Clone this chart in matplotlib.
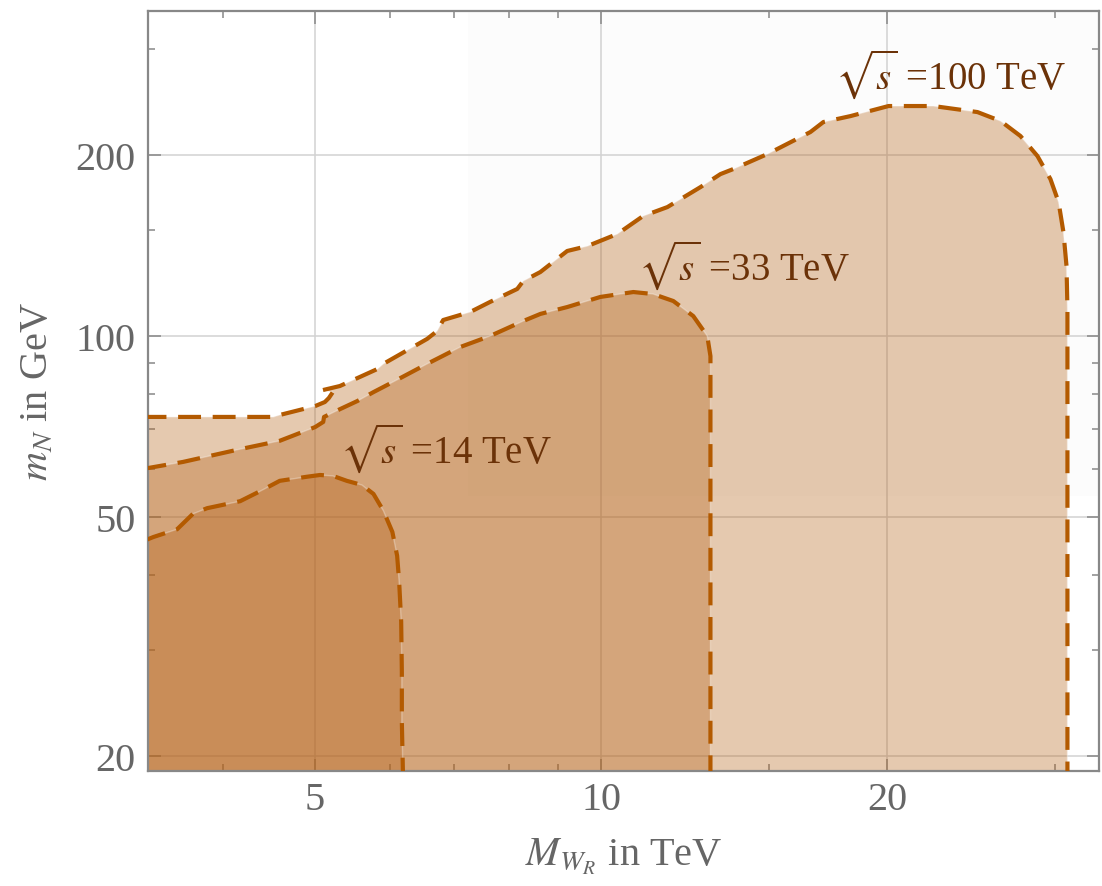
import matplotlib
matplotlib.use('Agg')
import matplotlib.pyplot as plt
from matplotlib.patches import Rectangle

plt.rcParams['font.family'] = ['Liberation Serif', 'DejaVu Serif']
plt.rcParams['mathtext.fontset'] = 'stix'

# reach contours, M_WR in TeV vs m_N in GeV
mw_100 = [3.30, 4.52, 4.59, 5.00, 5.12, 5.17, 5.22, 5.09, 5.31, 5.82, 5.90, 6.56, 6.72, 6.82,
          7.28, 7.64, 8.16, 8.28, 8.63, 9.21, 9.67, 10.40, 11.07, 11.74, 12.72, 13.35, 13.77,
          14.96, 16.60, 17.13, 18.29, 20.06, 22.36, 24.88, 26.31, 27.61, 28.77, 29.69, 30.28,
          30.64, 30.87, 30.94, 30.94]
mn_100 = [73.3, 73.3, 73.85, 76.4, 77.6, 78.8, 80.6, 81.2, 82.5, 88.1, 89.8, 98.8, 101.8, 106.2,
          109.5, 113.8, 119.6, 123.3, 127.6, 138.3, 140.9, 147.6, 158.1, 163.6, 176.6, 185.6, 189.2,
          200.4, 218.0, 226.5, 231.7, 240.8, 240.8, 235.3, 227.4, 214.7, 198.9, 182.1, 166.8,
          148.7, 130.6, 110.8, 18.0]

mw_33 = [3.30, 3.63, 4.17, 4.59, 5.00, 5.10, 5.11, 5.31, 5.54, 5.76, 6.04, 6.56, 7.11, 7.64,
         8.28, 8.63, 9.21, 9.98, 10.81, 11.34, 11.91, 12.50, 12.93, 13.03, 13.03, 13.03]
mn_33 = [60.1, 61.7, 64.8, 66.9, 70.5, 71.9, 73.3, 75.5, 77.9, 80.6, 83.8, 89.8, 95.8, 99.9,
         105.8, 108.7, 111.6, 116.0, 118.2, 117.3, 114.2, 107.8, 99.9, 92.5, 84.7, 18.0]

mw_14 = [3.30, 3.38, 3.58, 3.72, 3.85, 4.17, 4.38, 4.59, 4.90, 5.06, 5.22, 5.40, 5.60, 5.76,
         5.90, 6.03, 6.10, 6.13, 6.16, 6.17, 6.17, 6.19]
mn_14 = [45.6, 46.3, 47.7, 50.6, 51.7, 53.1, 55.2, 57.4, 58.3, 58.7, 58.5, 57.4, 56.5, 54.6,
         51.2, 47.2, 43.1, 39.0, 33.5, 27.6, 22.8, 18.0]

labels = [r'$\sqrt{s}$ =100 TeV', r'$\sqrt{s}$ =33 TeV', r'$\sqrt{s}$ =14 TeV']
label_pos = [(17.6, 258), (10.94, 124.2), (5.31, 61.7)]

x_major = [5, 10, 20]
x_minor = [4, 6, 7, 8, 9, 15, 30]
y_major = [20, 50, 100, 200]
y_minor = [30, 40, 60, 70, 80, 90, 150, 300]

line_c = '#b35a00'
fill_c = '#b46117'
grey = '#666666'

fig = plt.figure(figsize=(11.02, 8.87), dpi=100)
ax = fig.add_axes([0.1343, 0.1291, 0.8630, 0.8579])
ax.set_xscale('log')
ax.set_yscale('log')
ax.set_xlim(3.336, 33.4)
ax.set_ylim(18.88, 347)

# faint rendering patch in the background
ax.add_patch(Rectangle((7.25, 54.2), 40, 500, color='#fcfcfc', lw=0, zorder=0))

for mw, mn in [(mw_100, mn_100), (mw_33, mn_33), (mw_14, mn_14)]:
    ax.fill(mw + [mw[0]], mn + [18.0], color=fill_c, alpha=0.34, lw=0, zorder=1)
    ax.plot(mw, mn, color='white', lw=1.0, alpha=0.3, zorder=2)
    ax.plot(mw, mn, color=line_c, lw=3.0, dashes=(5.5, 2.8), zorder=3)

for txt, (x, y) in zip(labels, label_pos):
    ax.text(x, y, txt, fontsize=28, color='#6b3208', ha='left', va='baseline', zorder=4)

ax.set_xticks(x_major)
ax.set_xticks(x_minor, minor=True)
ax.set_yticks(y_major)
ax.set_yticks(y_minor, minor=True)
ax.set_xticklabels([str(v) for v in x_major])
ax.set_yticklabels([str(v) for v in y_major])
ax.set_xticklabels([], minor=True)
ax.set_yticklabels([], minor=True)

ax.set_axisbelow(True)
ax.grid(True, which='major', color='#d2d2d2', lw=1.1)
ax.tick_params(which='both', direction='in', top=True, right=True, color='#888888',
               labelsize=29, labelcolor=grey, width=1.1)
ax.tick_params(axis='x', which='both', pad=7)
ax.tick_params(axis='y', which='both', pad=9)
ax.tick_params(which='major', length=9)
ax.tick_params(which='minor', length=5)
for s in ax.spines.values():
    s.set_color('#888888')
    s.set_linewidth(1.6)

ax.set_xlabel(r'$M_{W_R}$ in TeV', fontsize=29, color=grey, labelpad=13)
ax.set_ylabel(r'$m_N$ in GeV', fontsize=29, color=grey, labelpad=14)

fig.savefig('out.png', dpi=100)
